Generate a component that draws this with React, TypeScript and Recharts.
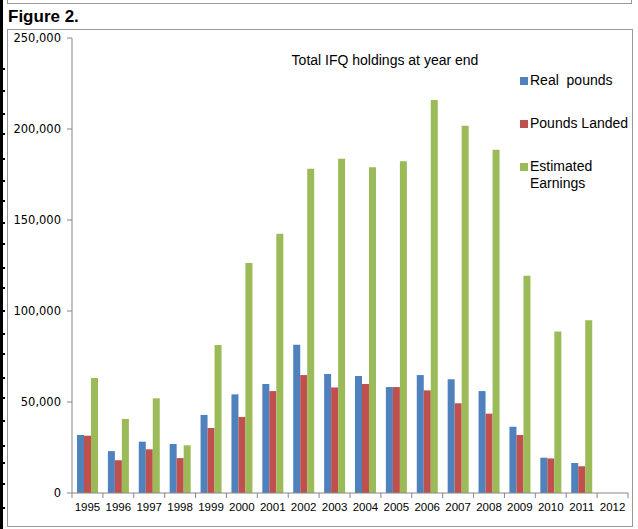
import { BarChart, Bar, XAxis, YAxis, Legend } from "recharts";

const YEARS = [
  "1995", "1996", "1997", "1998", "1999", "2000", "2001", "2002", "2003",
  "2004", "2005", "2006", "2007", "2008", "2009", "2010", "2011", "2012",
];

const REAL_POUNDS = [
  31900, 23000, 28200, 26900, 42900, 54200, 59900, 81500, 65400,
  64300, 58200, 64800, 62500, 56000, 36400, 19400, 16500, null,
];

const POUNDS_LANDED = [
  31500, 18000, 24000, 19200, 35700, 41800, 56000, 64800, 58000,
  59900, 58200, 56400, 49300, 43600, 31900, 19000, 14700, null,
];

const EST_EARNINGS = [
  63200, 40700, 52000, 26200, 81300, 126400, 142500, 178200, 183700,
  179000, 182300, 216000, 201800, 188600, 119400, 88800, 94900, null,
];

const Y_TICKS = [0, 50000, 100000, 150000, 200000, 250000];

const SERIES = [
  { key: "real", label: "Real  pounds", color: "#4F81BD" },
  { key: "landed", label: "Pounds Landed", color: "#C0504D" },
  { key: "earnings", label: "Estimated\nEarnings", color: "#9BBB59" },
];

// the black ruler edge on the left of the scan
const RULER_MARKS = [
  68, 90, 113, 133, 158, 180, 200, 222, 243, 267, 287, 310, 333, 353, 377,
  397, 420, 445, 462, 483, 507,
];

const data = YEARS.map((year, i) => ({
  year,
  real: REAL_POUNDS[i],
  landed: POUNDS_LANDED[i],
  earnings: EST_EARNINGS[i],
}));

const W = 638;
const H = 529;
const MARGIN = { top: 38, right: 10, bottom: 6, left: 12 };
const Y_AXIS_W = 60;
const X_AXIS_H = 30;
const PLOT_W = W - MARGIN.left - MARGIN.right - Y_AXIS_W;
const BAND = PLOT_W / YEARS.length;
const AXIS_GRAY = "#868686";
const FONT = "'Liberation Sans', Arial, sans-serif";

function YearTick(props: any) {
  const { x, y, payload, index } = props;
  const isLast = index === YEARS.length - 1;
  return (
    <g>
      <line x1={x - BAND / 2} x2={x - BAND / 2} y1={y} y2={y + 5} stroke={AXIS_GRAY} />
      {isLast && (
        <line x1={x + BAND / 2} x2={x + BAND / 2} y1={y} y2={y + 5} stroke={AXIS_GRAY} />
      )}
      <text
        x={x}
        y={y + 18}
        textAnchor="middle"
        fontSize={11.5}
        fontFamily={FONT}
        fill="#000"
      >
        {payload.value}
      </text>
    </g>
  );
}

function LegendBox() {
  return (
    <div style={{ fontFamily: FONT, fontSize: 14, color: "#000", lineHeight: "17px" }}>
      {SERIES.map((s) => (
        <div key={s.key} style={{ display: "flex", alignItems: "flex-start", height: 43 }}>
          <span
            style={{
              width: 8,
              height: 8,
              marginTop: 5,
              marginRight: 2,
              background: s.color,
              flex: "none",
            }}
          />
          <span style={{ whiteSpace: "pre" }}>{s.label}</span>
        </div>
      ))}
    </div>
  );
}

export default function App() {
  return (
    <div
      style={{
        position: "absolute",
        left: 0,
        top: 0,
        width: W,
        height: H,
        background: "#fff",
        overflow: "hidden",
      }}
    >
      {/* scan decorations */}
      <div style={{ position: "absolute", left: 0, top: 0, width: 3, height: H, background: "#000" }} />
      {RULER_MARKS.map((y) => (
        <div key={y} style={{ position: "absolute", left: 0, top: y, width: 5, height: 2, background: "#000" }} />
      ))}
      <div
        style={{
          position: "absolute",
          left: 7,
          top: -2,
          width: 625,
          height: 6,
          border: "1px solid #9a9a9a",
          borderTop: "none",
          boxSizing: "border-box",
        }}
      />
      <div
        style={{
          position: "absolute",
          left: 8,
          top: 7,
          fontFamily: FONT,
          fontWeight: "bold",
          fontSize: 17,
          lineHeight: "20px",
          color: "#000",
        }}
      >
        Figure 2.
      </div>
      <div
        style={{
          position: "absolute",
          left: 7,
          top: 29,
          width: 626,
          height: 498,
          border: "1px solid #9a9a9a",
          boxSizing: "border-box",
        }}
      />
      <div
        style={{
          position: "absolute",
          left: 275,
          top: 52,
          width: 220,
          textAlign: "center",
          fontFamily: FONT,
          fontSize: 14,
          lineHeight: "17px",
          color: "#000",
        }}
      >
        Total IFQ holdings at year end
      </div>

      <div style={{ position: "absolute", left: 0, top: 0 }}>
        <BarChart width={W} height={H} data={data} margin={MARGIN} barGap={0} barSize={7}>
          <XAxis
            dataKey="year"
            height={X_AXIS_H}
            interval={0}
            stroke={AXIS_GRAY}
            tickLine={false}
            tickSize={0}
            tickMargin={0}
            tick={<YearTick />}
          />
          <YAxis
            width={Y_AXIS_W}
            domain={[0, 250000]}
            ticks={Y_TICKS}
            interval={0}
            stroke={AXIS_GRAY}
            tickSize={5}
            tickMargin={6}
            tickFormatter={(v: number) => v.toLocaleString("en-US")}
            tick={{ fill: "#000", fontSize: 11.5, fontFamily: "'DejaVu Sans', Tahoma, sans-serif" }}
          />
          <Legend
            layout="vertical"
            align="center"
            verticalAlign="middle"
            content={<LegendBox />}
            wrapperStyle={{ left: 520, top: 72, width: 118 }}
          />
          {SERIES.map((s) => (
            <Bar
              key={s.key}
              dataKey={s.key}
              name={s.label}
              fill={s.color}
              isAnimationActive={false}
            />
          ))}
        </BarChart>
      </div>
    </div>
  );
}
